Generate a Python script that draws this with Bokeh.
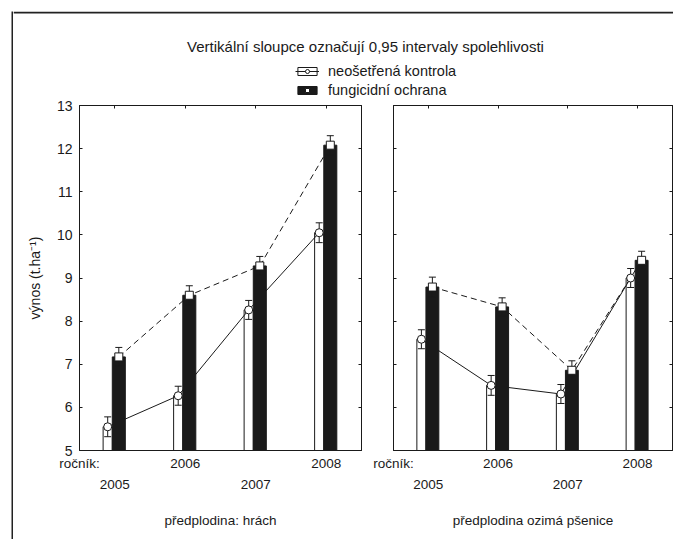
import numpy as np
from bokeh.plotting import figure
from bokeh.models import (Range1d, LinearAxis, FixedTicker, Label, Legend, LegendItem,
                          Spacer, Span)
from bokeh.layouts import row, column
from bokeh.embed import file_html
from bokeh.resources import INLINE

# ---------------- data ----------------
years = ["2005", "2006", "2007", "2008"]
y_ticks = [5, 6, 7, 8, 9, 10, 11, 12, 13]

hrach_kontrola = [5.55, 6.27, 8.26, 10.05]
hrach_kontrola_ci = [0.23, 0.22, 0.22, 0.23]
hrach_fungicid = [7.17, 8.60, 9.28, 12.08]
hrach_fungicid_ci = [0.22, 0.22, 0.22, 0.22]

psenice_kontrola = [7.58, 6.51, 6.31, 9.00]
psenice_kontrola_ci = [0.22, 0.23, 0.22, 0.22]
psenice_fungicid = [8.79, 8.33, 6.86, 9.41]
psenice_fungicid_ci = [0.23, 0.21, 0.22, 0.21]

series_labels = ["neošetřená kontrola", "fungicidní ochrana"]
panel_titles = ["předplodina: hrách", "předplodina ozimá pšenice"]
title_text = "Vertikální sloupce označují 0,95 intervaly spolehlivosti"
x_prefix = "ročník:"
y_label = "výnos (t.ha⁻¹)"

# ---------------- style ----------------
FONT = "Liberation Sans"
FS_Y = "14px"
FS_X = "13.5px"
FS_LEG = "14.5px"
FS_TITLE = "15px"
INK = "#1a1a1a"
FRAME = "#222222"
PANEL_H = 440
RULE = 2     # outer rule thickness
TOP_W, TOP_H = 660, 86 + RULE
GAP = 11     # white space before the outer rule


def bare(width, height, **kw):
    p = figure(width=width, height=height, output_backend="svg", toolbar_location=None,
               x_axis_location=None, y_axis_location=None, min_border=0, **kw)
    p.grid.visible = False
    p.outline_line_color = None
    return p


def hidden_label_axis(ticks, tick_in=3):
    return LinearAxis(ticker=FixedTicker(ticks=ticks), major_tick_in=tick_in, major_tick_out=0,
                      minor_tick_in=0, minor_tick_out=0, major_label_standoff=0,
                      major_label_text_font_size="0px", major_label_text_color=None,
                      axis_line_color=INK, major_tick_line_color=INK)


def panel(kontrola, k_ci, fungicid, f_ci, subtitle, width, bl, br, show_y):
    p = figure(width=width, height=PANEL_H, output_backend="svg", toolbar_location=None,
               x_range=Range1d(0, len(years)), y_range=Range1d(y_ticks[0], y_ticks[-1]),
               min_border_left=bl, min_border_right=br, min_border_top=6, min_border_bottom=89,
               x_axis_location=None, y_axis_location=None)
    p.grid.visible = False
    p.outline_line_color = INK
    p.outline_line_width = 1
    p.background_fill_color = "white"
    p.border_fill_color = "white"

    pos = np.arange(len(years)) + 0.5
    xw = pos - 0.10
    xb = pos + 0.0575
    base = y_ticks[0]
    k = np.array(kontrola)
    f = np.array(fungicid)
    kc = np.array(k_ci)
    fc = np.array(f_ci)

    p.vbar(x=xw, bottom=base, top=k, width=0.13, fill_color="white", line_color=INK, line_width=1)
    p.line(xw, k, line_color=INK, line_width=1)
    p.line(xb, f, line_color=INK, line_width=1, line_dash="6 4")
    p.vbar(x=xb, bottom=base, top=f, width=0.185, fill_color=INK, line_color=INK, line_width=1)

    for xs, m, c in ((xw, k, kc), (xb, f, fc)):
        p.segment(x0=xs, y0=m - c, x1=xs, y1=m + c, line_color=INK, line_width=1)
        p.scatter(xs, m + c, marker="dash", size=7, line_color=INK, line_width=1)
        p.scatter(xs, m - c, marker="dash", size=7, line_color=INK, line_width=1)

    p.scatter(xw, k, marker="circle", size=8, fill_color="white", line_color=INK, line_width=1)
    p.scatter(xb, f, marker="square", size=8, fill_color="white", line_color=INK, line_width=1)

    if show_y:
        ly = LinearAxis(ticker=FixedTicker(ticks=y_ticks), major_tick_in=3, major_tick_out=0,
                        minor_tick_in=0, minor_tick_out=0, major_label_standoff=7,
                        axis_line_color=INK, major_tick_line_color=INK,
                        major_label_text_font=FONT, major_label_text_font_size=FS_Y,
                        major_label_text_color=INK,
                        axis_label=y_label, axis_label_standoff=11,
                        axis_label_text_font=FONT, axis_label_text_font_size=FS_Y,
                        axis_label_text_font_style="normal", axis_label_text_color=INK)
    else:
        ly = hidden_label_axis(y_ticks)
    p.add_layout(ly, "left")
    p.add_layout(hidden_label_axis(y_ticks), "right")
    p.add_layout(hidden_label_axis([float(v) for v in pos]), "above")

    row1_ticks = [0.0] + [float(v) for v in pos[1::2]]
    row1_labels = [x_prefix] + years[1::2]
    ax1 = LinearAxis(ticker=FixedTicker(ticks=row1_ticks),
                     major_label_overrides=dict(zip(row1_ticks, row1_labels)),
                     major_tick_in=0, major_tick_out=0, minor_tick_in=0, minor_tick_out=0,
                     major_label_standoff=5, axis_line_color=INK,
                     major_label_text_font=FONT, major_label_text_font_size=FS_X,
                     major_label_text_color=INK)
    row2_ticks = [float(v) for v in pos[0::2]]
    row2_labels = years[0::2]
    ax2 = LinearAxis(ticker=FixedTicker(ticks=row2_ticks),
                     major_label_overrides=dict(zip(row2_ticks, row2_labels)),
                     major_tick_in=0, major_tick_out=0, minor_tick_in=0, minor_tick_out=0,
                     major_label_standoff=6, axis_line_color=None,
                     major_label_text_font=FONT, major_label_text_font_size=FS_X,
                     major_label_text_color=INK,
                     axis_label=subtitle, axis_label_standoff=21,
                     axis_label_text_font=FONT, axis_label_text_font_size=FS_X,
                     axis_label_text_font_style="normal", axis_label_text_color=INK)
    p.add_layout(ax1, "below")
    p.add_layout(ax2, "below")
    return p


pA = panel(hrach_kontrola, hrach_kontrola_ci, hrach_fungicid, hrach_fungicid_ci,
           panel_titles[0], width=359, bl=66, br=11, show_y=True)
pB = panel(psenice_kontrola, psenice_kontrola_ci, psenice_fungicid, psenice_fungicid_ci,
           panel_titles[1], width=301, bl=21, br=1, show_y=False)

# ---------------- header: outer top rule + title + legend ----------------
top = bare(TOP_W, TOP_H, x_range=Range1d(0, TOP_W), y_range=Range1d(0, TOP_H))
top.add_layout(Span(location=TOP_H - RULE / 2, dimension="width",
                    line_color=FRAME, line_width=RULE))
top.add_layout(Label(x=352, y=53, text=title_text, text_align="center", text_baseline="middle",
                     text_font=FONT, text_font_size=FS_TITLE, text_color=INK))

off = [-1000.0]
r_wbar = top.vbar(x=off, top=off, width=1, fill_color="white", line_color=INK, line_width=1)
r_wline = top.line(x=off, y=off, line_color=INK, line_width=1)
r_wdot = top.scatter(x=off, y=off, marker="circle", size=8, fill_color="white", line_color=INK)
r_bbar = top.vbar(x=off, top=off, width=1, fill_color=INK, line_color=INK, line_width=1)
r_bdot = top.scatter(x=off, y=off, marker="square", size=8, fill_color="white", line_color=INK)

legend = Legend(items=[LegendItem(label=series_labels[0], renderers=[r_wbar, r_wline, r_wdot]),
                       LegendItem(label=series_labels[1], renderers=[r_bbar, r_bdot])],
                location=(282, 1), orientation="vertical",
                border_line_color=None, background_fill_color=None,
                padding=0, margin=0, spacing=3, glyph_width=24, glyph_height=10,
                label_height=10, label_standoff=9,
                label_text_font=FONT, label_text_font_size=FS_LEG, label_text_color=INK)
top.add_layout(legend)

# ---------------- outer left rule ----------------
left_rule = bare(RULE, TOP_H + PANEL_H, x_range=Range1d(0, 1), y_range=Range1d(0, 1))
left_rule.background_fill_color = FRAME
left_rule.border_fill_color = FRAME

framed = row(left_rule, column(top, row(pA, pB)))
layout = row(Spacer(width=GAP), column(Spacer(height=GAP), framed))

open("out.html", "w").write(file_html(layout, INLINE))
